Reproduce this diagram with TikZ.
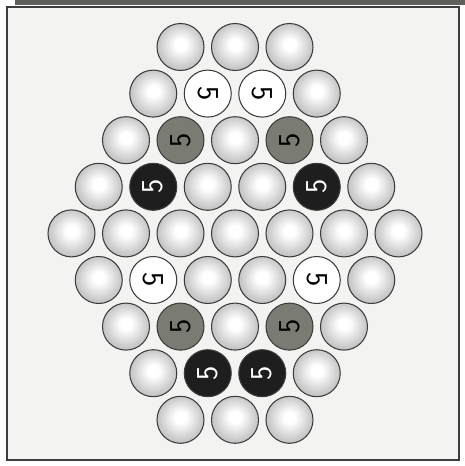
\documentclass[tikz,border=0pt]{standalone}
\definecolor{paper}{RGB}{243,243,241}
\definecolor{rim}{RGB}{60,60,60}
\definecolor{slate}{RGB}{122,124,116}
\definecolor{coal}{RGB}{30,30,30}
\definecolor{scan}{RGB}{95,95,92}
\pgfdeclareradialshading{pearl}{\pgfpoint{0bp}{3bp}}{color(0bp)=(white); color(6bp)=(white); color(22bp)=(black!20); color(38bp)=(black!36); color(50bp)=(black!58)}
\tikzset{
  ball/.style={circle,draw=rim,semithick,minimum size=0.94cm,inner sep=0pt,
    font=\sffamily\LARGE},
  % the four kinds of ball (y runs downwards, so the turns are mirrored)
  p/.style={ball,shading=pearl,node contents={}},
  w/.style={ball,fill=white,rotate=-90,node contents=5},
  g/.style={ball,fill=slate,rotate=90,node contents=5},
  k/.style={ball,fill=coal,text=white,rotate=90,node contents=5},
}
\begin{document}
\begin{tikzpicture}[x=0.02cm,y=-0.02cm]
  \useasboundingbox (0,0) rectangle (465,466);
  \fill[scan] (15,0) rectangle (465,5);
  \draw[rim,fill=paper,thick] (7,7) rectangle (459,460);
  % rows of the hexagon, top to bottom
  \foreach \r/\row in {0/{p,p,p},1/{p,w,w,p},2/{p,g,p,g,p},3/{p,k,p,p,k,p},
      4/{p,p,p,p,p,p,p},5/{p,w,p,p,w,p},6/{p,g,p,g,p},7/{p,k,k,p},8/{p,p,p}}
    \foreach \k [count=\i from 0] in \row {
      \pgfmathsetmacro\bx{235+(\i-(6-abs(\r-4))/2)*54.5}
      \pgfmathsetmacro\by{47+\r*46.6}
      \node[name=b\r\i,at={(\bx,\by)},\k];
    }
\end{tikzpicture}
\end{document}
